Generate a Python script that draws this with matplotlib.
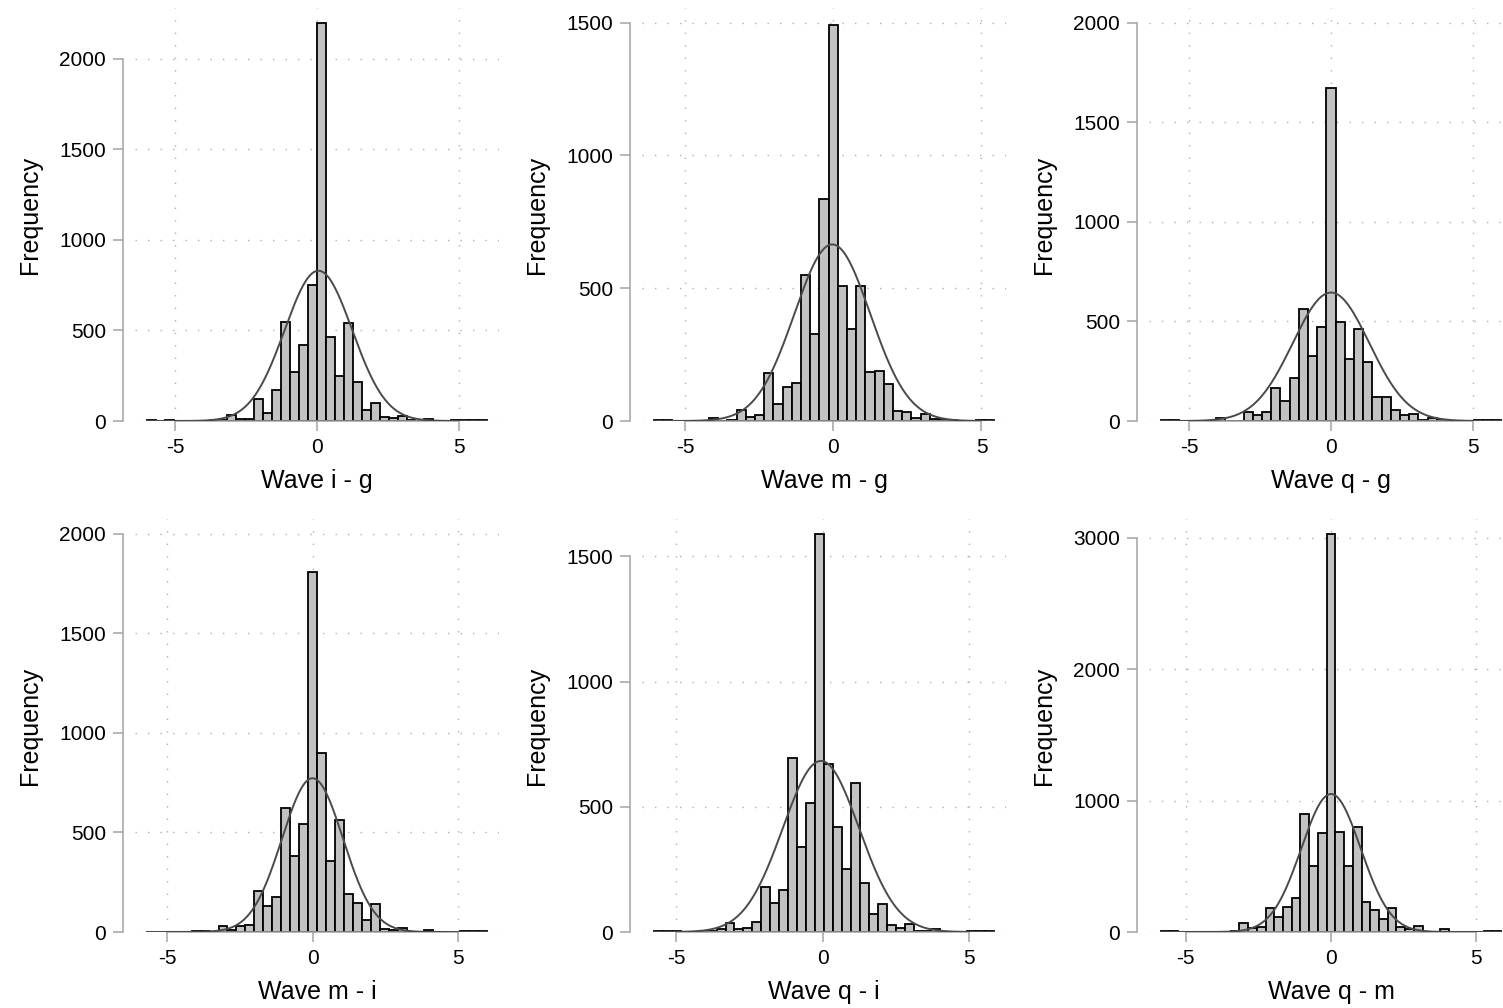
import matplotlib
matplotlib.use("Agg")
import matplotlib.pyplot as plt
import numpy as np

plt.rcParams['font.family'] = ['Liberation Sans', 'DejaVu Sans']
plt.rcParams['axes.unicode_minus'] = False

# x labels of the six panels
titles = ["Wave i - g", "Wave m - g", "Wave q - g",
          "Wave m - i", "Wave q - i", "Wave q - m"]

# histogram bins: first edge, bin width, counts per bin
starts = [-6.0, -6.045, -6.0, -5.692, -5.75, -5.85]
widths = [0.3158, 0.31, 0.3243, 0.30769, 0.305, 0.30]

counts_ig = [3, 1, 3, 1, 1, 2, 2, 3, 5, 33, 12, 12, 122, 43, 172, 547, 273, 421, 750,
             2200, 465, 249, 541, 218, 61, 100, 20, 15, 25, 3, 2, 12, 2, 1, 3, 3, 4, 5]
counts_mg = [3, 3, 1, 1, 0, 0, 10, 1, 2, 40, 14, 23, 179, 64, 127, 144, 549, 326, 837,
             1490, 509, 348, 509, 185, 188, 138, 36, 33, 10, 26, 9, 2, 5, 1, 1, 3, 3]
counts_qg = [3, 3, 1, 1, 0, 0, 17, 2, 1, 45, 28, 45, 166, 102, 216, 560, 324, 471,
             1671, 497, 313, 461, 298, 120, 122, 54, 28, 37, 3, 15, 3, 0, 0, 1, 3, 3, 3]
counts_mi = [2, 2, 1, 2, 2, 5, 7, 2, 28, 12, 28, 33, 206, 130, 175, 622, 384, 543,
             1810, 897, 356, 563, 192, 144, 58, 140, 17, 8, 20, 1, 0, 12, 0, 0, 2, 3, 3, 3]
counts_qi = [3, 3, 2, 1, 1, 4, 4, 11, 36, 13, 17, 40, 180, 115, 167, 693, 340, 517,
             1590, 670, 420, 251, 593, 195, 73, 113, 28, 15, 31, 3, 4, 13, 0, 0, 0, 3, 3, 3]
counts_qm = [4, 4, 3, 0, 1, 3, 2, 0, 10, 68, 30, 35, 182, 111, 187, 258, 896, 503, 756,
             3030, 764, 503, 797, 228, 164, 96, 182, 38, 25, 48, 2, 0, 20, 0, 1, 0, 3, 4, 4]
all_counts = [counts_ig, counts_mg, counts_qg, counts_mi, counts_qi, counts_qm]

# overlaid normal curve: mean, sd, peak height
norm_mean = [0.05, -0.03, 0.0, 0.0, -0.06, 0.0]
norm_sd = [1.19, 1.28, 1.35, 1.05, 1.30, 1.02]
norm_peak = [830, 665, 645, 772, 683, 1050]

# y ticks
ytick_step = [500, 500, 500, 500, 500, 1000]
ytick_max = [2000, 1500, 2000, 2000, 1500, 3000]

W, H = 1503, 1008
fig = plt.figure(figsize=(W / 100, H / 100), dpi=100)

col_left = [135, 642, 1149]
row_bottom = [421, 932]
ax_w, ax_h = 364, 413
grey = '#a3a3a3'

for i in range(6):
    r, c = divmod(i, 3)
    ax = fig.add_axes([col_left[c] / W, 1 - row_bottom[r] / H, ax_w / W, ax_h / H])
    counts = np.array(all_counts[i])
    w = widths[i]
    edges = starts[i] + w * np.arange(len(counts) + 1)
    lo, hi = edges[0], edges[-1]

    ax.bar(edges[:-1], counts, width=w, align='edge', color='#c2c2c2',
           edgecolor='black', linewidth=1.3, zorder=2)

    xs = np.linspace(lo, hi, 400)
    ys = norm_peak[i] * np.exp(-0.5 * ((xs - norm_mean[i]) / norm_sd[i]) ** 2)
    ax.plot(xs, ys, color='#4a4a4a', linewidth=1.4, zorder=3)

    m = 0.035 * (hi - lo)
    ax.set_xlim(lo - m, hi + m)
    top = max(counts.max(), ytick_max[i]) * 1.037
    ax.set_ylim(0, top)

    ax.set_xticks([-5, 0, 5])
    ax.set_yticks(np.arange(0, ytick_max[i] + 1, ytick_step[i]))

    for s in ['top', 'right']:
        ax.spines[s].set_visible(False)
    ax.spines['left'].set_position(('outward', 9))
    ax.spines['left'].set_bounds(0, ytick_max[i])
    ax.spines['bottom'].set_bounds(-5, 5)
    for s in ['left', 'bottom']:
        ax.spines[s].set_color(grey)
        ax.spines[s].set_linewidth(1.1)

    ax.tick_params(axis='both', colors=grey, labelcolor='black', labelsize=15,
                   width=1.1, length=7, pad=5)

    ax.grid(True, color='#b0b0b0', linestyle=(0, (1, 8)), linewidth=1.0)
    ax.set_axisbelow(True)

    ax.set_xlabel(titles[i], fontsize=18, va='center')
    ax.xaxis.set_label_coords(0.5, -0.145)
    ax.set_ylabel("Frequency", fontsize=18, va='center')
    ax.yaxis.set_label_coords(-0.288, 0.5)

fig.savefig("out.png", dpi=100, facecolor='white')
